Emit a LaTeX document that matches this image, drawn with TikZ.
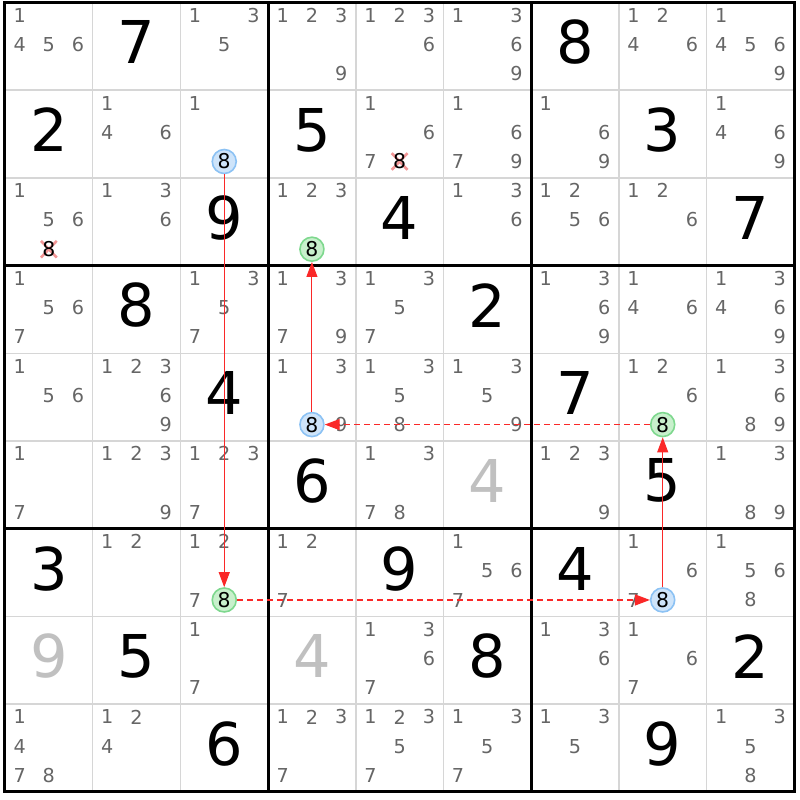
\documentclass[tikz,border=0pt]{standalone}
\usepackage{fontspec}
\setmainfont{DejaVu Sans}
\usetikzlibrary{arrows.meta}

\definecolor{candgray}{RGB}{102,102,102}
\definecolor{givengray}{RGB}{192,192,192}
\definecolor{thingrid}{RGB}{214,214,214}
\definecolor{bluefill}{RGB}{206,228,250}
\definecolor{blueline}{RGB}{140,194,244}
\definecolor{greenfill}{RGB}{200,240,204}
\definecolor{greenline}{RGB}{126,216,142}
\definecolor{linkred}{RGB}{250,40,40}
\definecolor{crossred}{RGB}{242,150,150}

\tikzset{
  cand/.style={text=candgray, inner sep=0pt, font=\fontsize{9.6}{10}\selectfont},
  given/.style={inner sep=0pt, font=\fontsize{29.5}{30}\selectfont},
  ghost/.style={given, text=givengray},
  marked/.style={circle, inner sep=0pt, minimum size=12pt, line width=0.8pt,
    font=\fontsize{10.2}{11}\selectfont},
  bluemark/.style={marked, draw=blueline, fill=bluefill},
  greenmark/.style={marked, draw=greenline, fill=greenfill},
  crossmark/.style={draw=crossred, line width=1.3pt},
  strong/.style={draw=linkred, line width=0.5pt, -{Triangle[length=7.5pt, width=5.5pt]}},
  weak/.style={strong, line width=0.65pt, dash pattern=on 3pt off 2pt}
}

\begin{document}
\begin{tikzpicture}[x=43.85pt, y=-43.85pt]

\fill[white] (-0.057,-0.0285) rectangle (9.065,9.094);
\useasboundingbox (-0.057,-0.0285) rectangle (9.065,9.094);

% grid
\foreach \i in {1,2,4,5,7,8} {
\draw[thingrid, line width=0.75pt] (\i,0) -- ++(0,9);
\draw[thingrid, line width=0.75pt] (0,\i) -- ++(9,0);
}
\foreach \i in {0,3,6,9} {
\draw[line width=1.5pt, line cap=rect] (\i,0) -- ++(0,9);
\draw[line width=1.5pt, line cap=rect] (0,\i) -- ++(9,0);
}

% givens
\foreach \r/\c/\v in {1/2/7, 1/7/8, 2/1/2, 2/4/5, 2/8/3, 3/3/9, 3/5/4, 3/9/7,
  4/2/8, 4/6/2, 5/3/4, 5/7/7, 6/4/6, 6/8/5, 7/1/3, 7/5/9, 7/7/4,
  8/2/5, 8/6/8, 8/9/2, 9/3/6, 9/8/9} {
\node[given] (v\r\c) at (\c-0.5, \r-0.545) {\v};
}
\foreach \r/\c/\v in {6/6/4, 8/1/9, 8/4/4} {
\node[ghost] (v\r\c) at (\c-0.5, \r-0.545) {\v};
}

% candidates
\foreach \r/\c/\list in {
  1/1/{1,4,5,6}, 1/3/{1,3,5}, 1/4/{1,2,3,9}, 1/5/{1,2,3,6}, 1/6/{1,3,6,9}, 1/8/{1,2,4,6}, 1/9/{1,4,5,6,9},
  2/2/{1,4,6}, 2/3/{1}, 2/5/{1,6,7}, 2/6/{1,6,7,9}, 2/7/{1,6,9}, 2/9/{1,4,6,9},
  3/1/{1,5,6}, 3/2/{1,3,6}, 3/4/{1,2,3}, 3/6/{1,3,6}, 3/7/{1,2,5,6}, 3/8/{1,2,6},
  4/1/{1,5,6,7}, 4/3/{1,3,5,7}, 4/4/{1,3,7,9}, 4/5/{1,3,5,7}, 4/7/{1,3,6,9}, 4/8/{1,4,6}, 4/9/{1,3,4,6,9},
  5/1/{1,5,6}, 5/2/{1,2,3,6,9}, 5/4/{1,3,9}, 5/5/{1,3,5,8}, 5/6/{1,3,5,9}, 5/8/{1,2,6}, 5/9/{1,3,6,8,9},
  6/1/{1,7}, 6/2/{1,2,3,9}, 6/3/{1,2,3,7}, 6/5/{1,3,7,8}, 6/7/{1,2,3,9}, 6/9/{1,3,8,9},
  7/2/{1,2}, 7/3/{1,2,7}, 7/4/{1,2,7}, 7/6/{1,5,6,7}, 7/8/{1,6,7}, 7/9/{1,5,6,8},
  8/3/{1,7}, 8/5/{1,3,6,7}, 8/7/{1,3,6}, 8/8/{1,6,7},
  9/1/{1,4,7,8}, 9/2/{1,2,4}, 9/4/{1,2,3,7}, 9/5/{1,2,3,5,7}, 9/6/{1,3,5,7}, 9/7/{1,3,5}, 9/9/{1,3,5,8}} {
\foreach \d in \list {
\node[cand] (n\r\c\d) at ({\c-1+(mod(\d-1,3)+0.5)/3}, {\r-1+(floor((\d-1)/3)+0.5)/3-0.02}) {\d};
}
}

% eliminated 8s
\foreach \x/\y/\n in {4.5/1.813/x25, 0.5/2.813/x31} {
\coordinate (\n) at (\x,\y);
\draw[crossmark] (\n) ++(-0.09,-0.095) -- ++(0.18,0.19) (\n) ++(0.09,-0.095) -- ++(-0.18,0.19);
\node[inner sep=0pt, font=\fontsize{10.2}{11}\selectfont] (\n d) at (\n) {8};
}

% chain
\node[bluemark] (b1) at (2.5,1.813) {8};
\node[greenmark] (g1) at (2.5,6.813) {8};
\node[bluemark] (b2) at (7.5,6.813) {8};
\node[greenmark] (g2) at (7.5,4.813) {8};
\node[bluemark] (b3) at (3.5,4.813) {8};
\node[greenmark] (g3) at (3.5,2.813) {8};

\draw[strong] (b1) -- (g1);
\draw[weak] (g1) -- (b2);
\draw[strong] (b2) -- (g2);
\draw[weak] (g2) -- (b3);
\draw[strong] (b3) -- (g3);

\end{tikzpicture}
\end{document}
